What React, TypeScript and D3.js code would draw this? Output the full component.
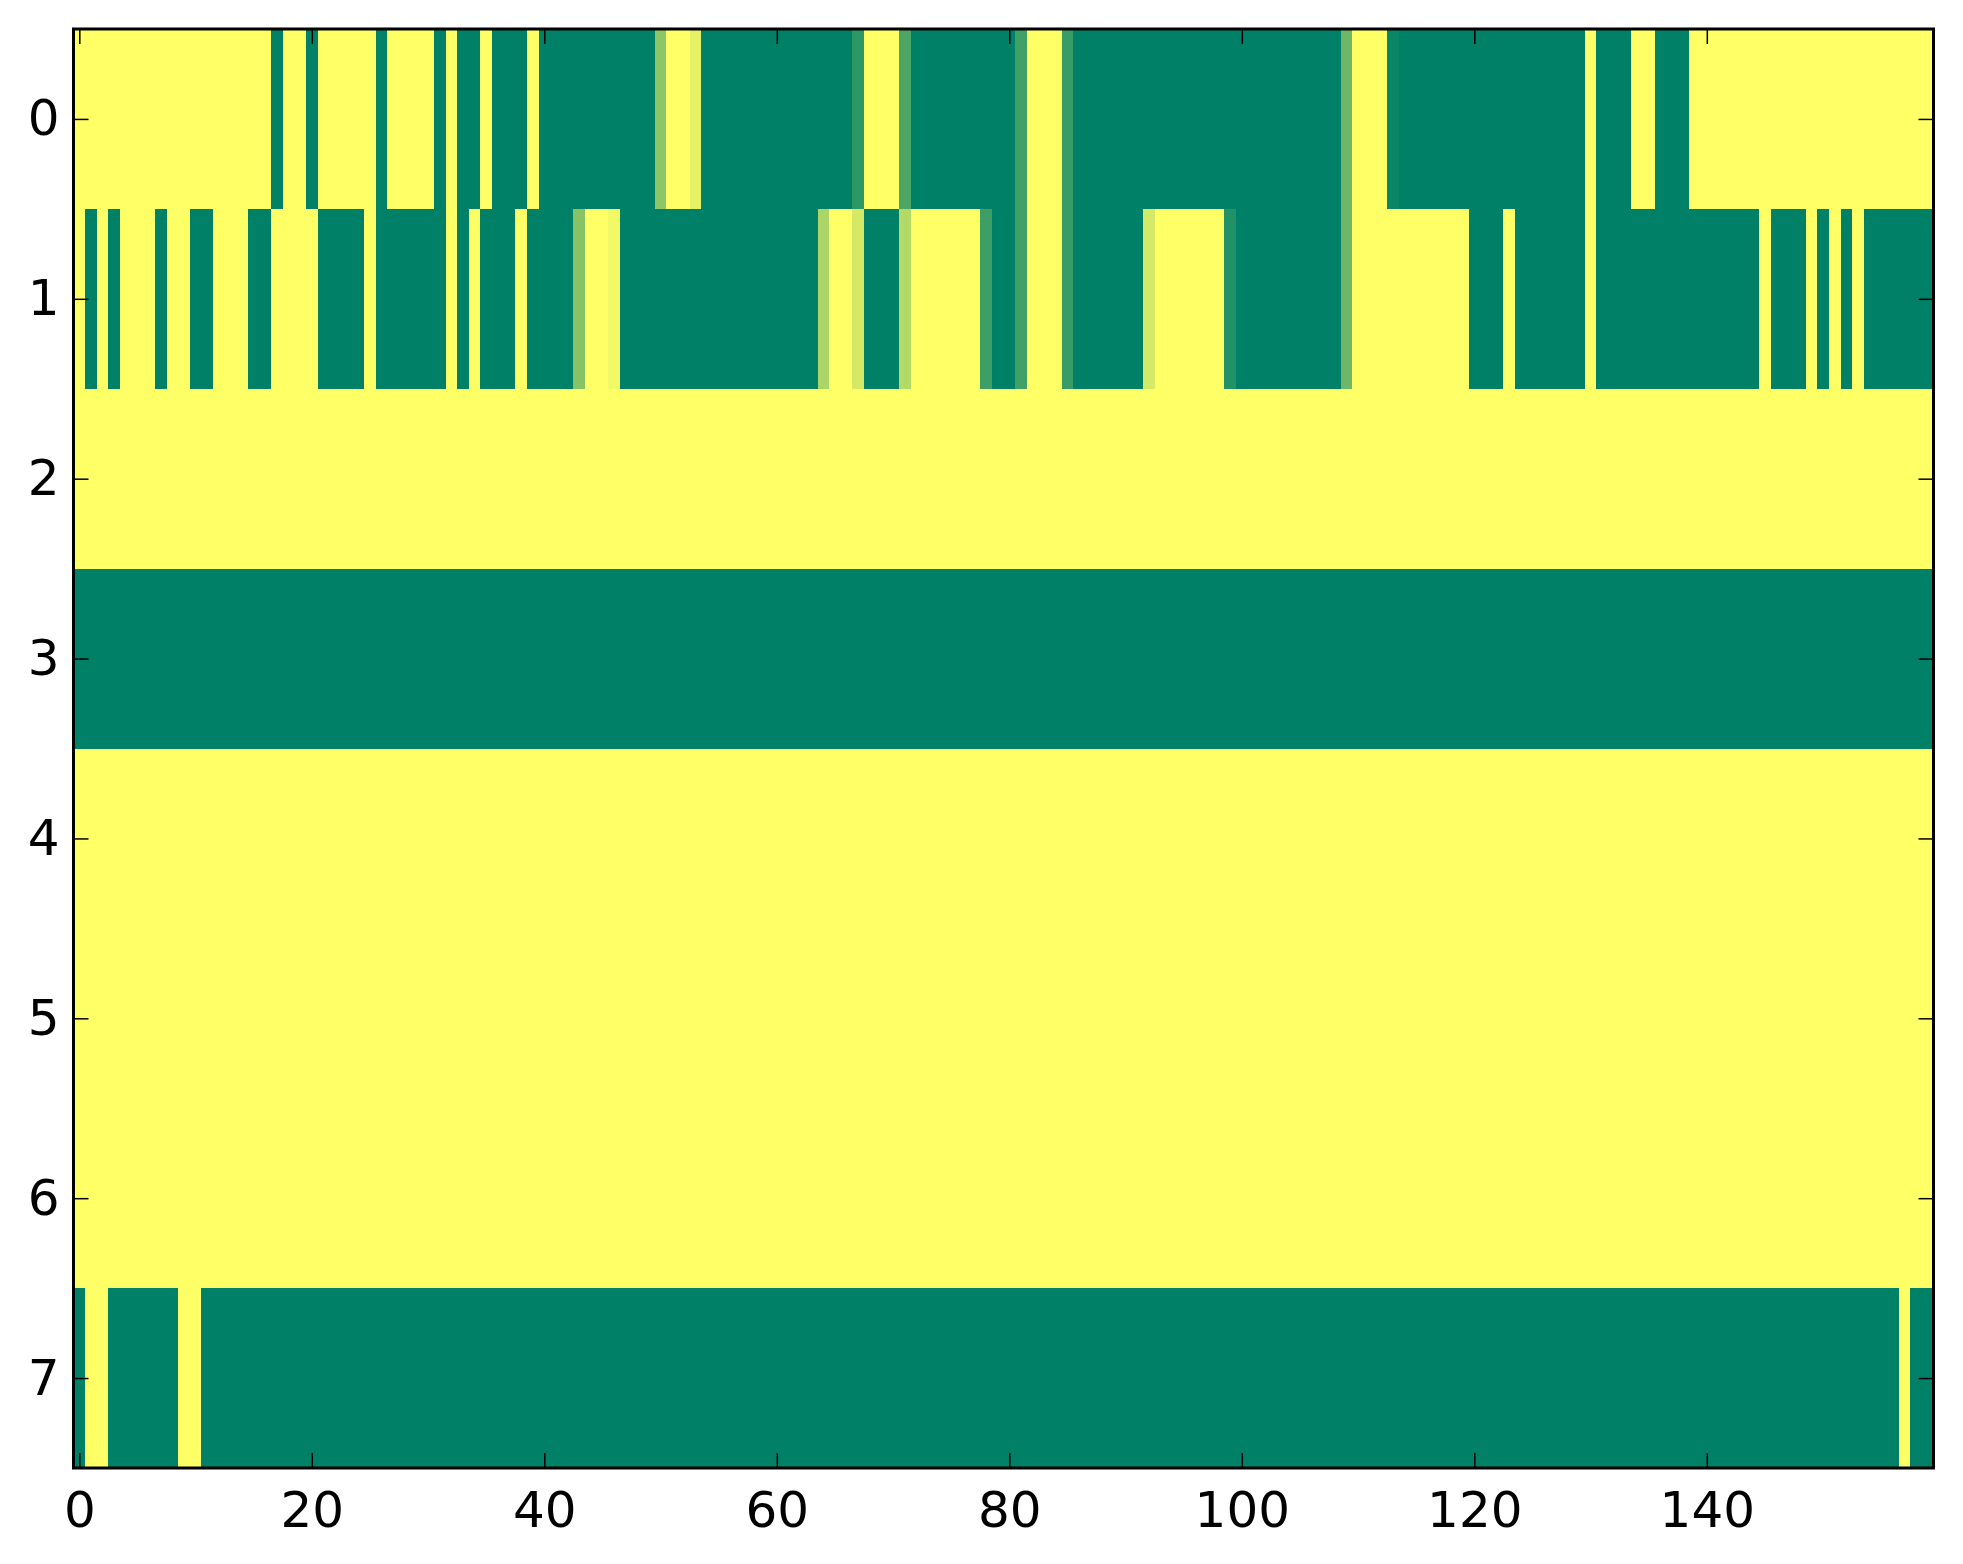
import React, { useEffect, useRef } from "react";
import * as d3 from "d3";

// cell values (0 = green end, 1 = yellow end of "summer")
const row0 = [
  1, 1, 1, 1, 1, 1, 1, 1, 1, 1, 1, 1, 1, 1, 1, 1, 1, 0, 1, 1,
  0, 1, 1, 1, 1, 1, 0, 1, 1, 1, 1, 0, 1, 0, 0, 1, 0, 0, 0, 1,
  0, 0, 0, 0, 0, 0, 0, 0, 0, 0, 0.55, 1, 1, 0.9, 0, 0, 0, 0, 0, 0,
  0, 0, 0, 0, 0, 0, 0, 0.18, 1, 1, 1, 0.3, 0, 0, 0, 0, 0, 0, 0, 0,
  0, 0.25, 1, 1, 1, 0.22, 0, 0, 0, 0, 0, 0, 0, 0, 0, 0, 0, 0, 0, 0,
  0, 0, 0, 0, 0, 0, 0, 0, 0, 0.43, 1, 1, 1, 0.04, 0, 0, 0, 0, 0, 0,
  0, 0, 0, 0, 0, 0, 0, 0, 0, 0, 1, 0, 0, 0, 1, 1, 0, 0, 0, 1,
  1, 1, 1, 1, 1, 1, 1, 1, 1, 1, 1, 1, 1, 1, 1, 1, 1, 1, 1, 1,
];

const row1 = [
  1, 0, 1, 0, 1, 1, 1, 0, 1, 1, 0, 0, 1, 1, 1, 0, 0, 1, 1, 1,
  1, 0, 0, 0, 0, 1, 0, 0, 0, 0, 0, 0, 1, 0, 1, 0, 0, 0, 1, 0,
  0, 0, 0, 0.53, 1, 1, 0.95, 0, 0, 0, 0, 0, 0, 0, 0, 0, 0, 0, 0, 0,
  0, 0, 0, 0, 0.67, 1, 1, 0.83, 0, 0, 0, 0.7, 1, 1, 1, 1, 1, 1, 0.24, 0,
  0, 0.25, 1, 1, 1, 0.22, 0, 0, 0, 0, 0, 0, 0.83, 1, 1, 1, 1, 1, 1, 0.13,
  0, 0, 0, 0, 0, 0, 0, 0, 0, 0.43, 1, 1, 1, 1, 1, 1, 1, 1, 1, 1,
  0, 0, 0, 1, 0, 0, 0, 0, 0, 0, 1, 0, 0, 0, 0, 0, 0, 0, 0, 0,
  0, 0, 0, 0, 0, 1, 0, 0, 0, 1, 0, 1, 0, 1, 0, 0, 0, 0, 0, 0,
];

const row2 = [
  1, 1, 1, 1, 1, 1, 1, 1, 1, 1, 1, 1, 1, 1, 1, 1, 1, 1, 1, 1,
  1, 1, 1, 1, 1, 1, 1, 1, 1, 1, 1, 1, 1, 1, 1, 1, 1, 1, 1, 1,
  1, 1, 1, 1, 1, 1, 1, 1, 1, 1, 1, 1, 1, 1, 1, 1, 1, 1, 1, 1,
  1, 1, 1, 1, 1, 1, 1, 1, 1, 1, 1, 1, 1, 1, 1, 1, 1, 1, 1, 1,
  1, 1, 1, 1, 1, 1, 1, 1, 1, 1, 1, 1, 1, 1, 1, 1, 1, 1, 1, 1,
  1, 1, 1, 1, 1, 1, 1, 1, 1, 1, 1, 1, 1, 1, 1, 1, 1, 1, 1, 1,
  1, 1, 1, 1, 1, 1, 1, 1, 1, 1, 1, 1, 1, 1, 1, 1, 1, 1, 1, 1,
  1, 1, 1, 1, 1, 1, 1, 1, 1, 1, 1, 1, 1, 1, 1, 1, 1, 1, 1, 1,
];

const row3 = [
  0, 0, 0, 0, 0, 0, 0, 0, 0, 0, 0, 0, 0, 0, 0, 0, 0, 0, 0, 0,
  0, 0, 0, 0, 0, 0, 0, 0, 0, 0, 0, 0, 0, 0, 0, 0, 0, 0, 0, 0,
  0, 0, 0, 0, 0, 0, 0, 0, 0, 0, 0, 0, 0, 0, 0, 0, 0, 0, 0, 0,
  0, 0, 0, 0, 0, 0, 0, 0, 0, 0, 0, 0, 0, 0, 0, 0, 0, 0, 0, 0,
  0, 0, 0, 0, 0, 0, 0, 0, 0, 0, 0, 0, 0, 0, 0, 0, 0, 0, 0, 0,
  0, 0, 0, 0, 0, 0, 0, 0, 0, 0, 0, 0, 0, 0, 0, 0, 0, 0, 0, 0,
  0, 0, 0, 0, 0, 0, 0, 0, 0, 0, 0, 0, 0, 0, 0, 0, 0, 0, 0, 0,
  0, 0, 0, 0, 0, 0, 0, 0, 0, 0, 0, 0, 0, 0, 0, 0, 0, 0, 0, 0,
];

const row4 = [
  1, 1, 1, 1, 1, 1, 1, 1, 1, 1, 1, 1, 1, 1, 1, 1, 1, 1, 1, 1,
  1, 1, 1, 1, 1, 1, 1, 1, 1, 1, 1, 1, 1, 1, 1, 1, 1, 1, 1, 1,
  1, 1, 1, 1, 1, 1, 1, 1, 1, 1, 1, 1, 1, 1, 1, 1, 1, 1, 1, 1,
  1, 1, 1, 1, 1, 1, 1, 1, 1, 1, 1, 1, 1, 1, 1, 1, 1, 1, 1, 1,
  1, 1, 1, 1, 1, 1, 1, 1, 1, 1, 1, 1, 1, 1, 1, 1, 1, 1, 1, 1,
  1, 1, 1, 1, 1, 1, 1, 1, 1, 1, 1, 1, 1, 1, 1, 1, 1, 1, 1, 1,
  1, 1, 1, 1, 1, 1, 1, 1, 1, 1, 1, 1, 1, 1, 1, 1, 1, 1, 1, 1,
  1, 1, 1, 1, 1, 1, 1, 1, 1, 1, 1, 1, 1, 1, 1, 1, 1, 1, 1, 1,
];

const row5 = [
  1, 1, 1, 1, 1, 1, 1, 1, 1, 1, 1, 1, 1, 1, 1, 1, 1, 1, 1, 1,
  1, 1, 1, 1, 1, 1, 1, 1, 1, 1, 1, 1, 1, 1, 1, 1, 1, 1, 1, 1,
  1, 1, 1, 1, 1, 1, 1, 1, 1, 1, 1, 1, 1, 1, 1, 1, 1, 1, 1, 1,
  1, 1, 1, 1, 1, 1, 1, 1, 1, 1, 1, 1, 1, 1, 1, 1, 1, 1, 1, 1,
  1, 1, 1, 1, 1, 1, 1, 1, 1, 1, 1, 1, 1, 1, 1, 1, 1, 1, 1, 1,
  1, 1, 1, 1, 1, 1, 1, 1, 1, 1, 1, 1, 1, 1, 1, 1, 1, 1, 1, 1,
  1, 1, 1, 1, 1, 1, 1, 1, 1, 1, 1, 1, 1, 1, 1, 1, 1, 1, 1, 1,
  1, 1, 1, 1, 1, 1, 1, 1, 1, 1, 1, 1, 1, 1, 1, 1, 1, 1, 1, 1,
];

const row6 = [
  1, 1, 1, 1, 1, 1, 1, 1, 1, 1, 1, 1, 1, 1, 1, 1, 1, 1, 1, 1,
  1, 1, 1, 1, 1, 1, 1, 1, 1, 1, 1, 1, 1, 1, 1, 1, 1, 1, 1, 1,
  1, 1, 1, 1, 1, 1, 1, 1, 1, 1, 1, 1, 1, 1, 1, 1, 1, 1, 1, 1,
  1, 1, 1, 1, 1, 1, 1, 1, 1, 1, 1, 1, 1, 1, 1, 1, 1, 1, 1, 1,
  1, 1, 1, 1, 1, 1, 1, 1, 1, 1, 1, 1, 1, 1, 1, 1, 1, 1, 1, 1,
  1, 1, 1, 1, 1, 1, 1, 1, 1, 1, 1, 1, 1, 1, 1, 1, 1, 1, 1, 1,
  1, 1, 1, 1, 1, 1, 1, 1, 1, 1, 1, 1, 1, 1, 1, 1, 1, 1, 1, 1,
  1, 1, 1, 1, 1, 1, 1, 1, 1, 1, 1, 1, 1, 1, 1, 1, 1, 1, 1, 1,
];

const row7 = [
  0, 1, 1, 0, 0, 0, 0, 0, 0, 1, 1, 0, 0, 0, 0, 0, 0, 0, 0, 0,
  0, 0, 0, 0, 0, 0, 0, 0, 0, 0, 0, 0, 0, 0, 0, 0, 0, 0, 0, 0,
  0, 0, 0, 0, 0, 0, 0, 0, 0, 0, 0, 0, 0, 0, 0, 0, 0, 0, 0, 0,
  0, 0, 0, 0, 0, 0, 0, 0, 0, 0, 0, 0, 0, 0, 0, 0, 0, 0, 0, 0,
  0, 0, 0, 0, 0, 0, 0, 0, 0, 0, 0, 0, 0, 0, 0, 0, 0, 0, 0, 0,
  0, 0, 0, 0, 0, 0, 0, 0, 0, 0, 0, 0, 0, 0, 0, 0, 0, 0, 0, 0,
  0, 0, 0, 0, 0, 0, 0, 0, 0, 0, 0, 0, 0, 0, 0, 0, 0, 0, 0, 0,
  0, 0, 0, 0, 0, 0, 0, 0, 0, 0, 0, 0, 0, 0, 0, 0, 0, 1, 0, 0,
];

const rows = [row0, row1, row2, row3, row4, row5, row6, row7];
const xTicks = [0, 20, 40, 60, 80, 100, 120, 140];
const yTicks = [0, 1, 2, 3, 4, 5, 6, 7];

const App = () => {
  const svgRef = useRef(null);
  const width = 1963;
  const height = 1564;

  useEffect(() => {
    document.body.style.margin = "0";

    const margin = { left: 73.5, right: 29.5, top: 29, bottom: 96 };
    const nCols = rows[0].length;
    const nRows = rows.length;

    const svg = d3.select(svgRef.current);
    svg.selectAll("*").remove();

    const x = d3
      .scaleLinear()
      .domain([-0.5, nCols - 0.5])
      .range([margin.left, width - margin.right]);
    const y = d3
      .scaleLinear()
      .domain([-0.5, nRows - 0.5])
      .range([margin.top, height - margin.bottom]);

    // matplotlib "summer": r = v, g = 0.5 + v/2, b = 0.4
    const color = d3
      .scaleLinear<string>()
      .domain([0, 1])
      .range(["rgb(0,128,102)", "rgb(255,255,102)"])
      .interpolate(d3.interpolateRgb);

    const cells = rows.flatMap((r, i) => r.map((v, j) => ({ i, j, v })));

    svg
      .append("g")
      .attr("shape-rendering", "crispEdges")
      .selectAll("rect")
      .data(cells)
      .join("rect")
      .attr("x", (d) => x(d.j - 0.5))
      .attr("y", (d) => y(d.i - 0.5))
      .attr("width", (d) => x(d.j + 0.5) - x(d.j - 0.5) + 0.5)
      .attr("height", (d) => y(d.i + 0.5) - y(d.i - 0.5) + 0.5)
      .attr("fill", (d) => color(d.v));

    const font = "'DejaVu Sans', sans-serif";
    const tick = 15;

    const styleAxis = (g, withText) => {
      g.select(".domain").remove();
      g.selectAll(".tick line").attr("stroke", "#000").attr("stroke-width", 1.5);
      g.selectAll("text")
        .attr("font-family", font)
        .attr("font-size", 50)
        .attr("fill", "#000");
      if (!withText) g.selectAll("text").remove();
    };

    svg
      .append("g")
      .attr("transform", `translate(0, ${y(nRows - 0.5)})`)
      .call(d3.axisBottom(x).tickValues(xTicks).tickSize(-tick).tickPadding(23))
      .call((g) => styleAxis(g, true));

    svg
      .append("g")
      .attr("transform", `translate(0, ${y(-0.5)})`)
      .call(d3.axisTop(x).tickValues(xTicks).tickSize(-tick))
      .call((g) => styleAxis(g, false));

    svg
      .append("g")
      .attr("transform", `translate(${x(-0.5)}, 0)`)
      .call(d3.axisLeft(y).tickValues(yTicks).tickSize(-tick).tickPadding(14))
      .call((g) => styleAxis(g, true));

    svg
      .append("g")
      .attr("transform", `translate(${x(nCols - 0.5)}, 0)`)
      .call(d3.axisRight(y).tickValues(yTicks).tickSize(-tick))
      .call((g) => styleAxis(g, false));

    // frame
    svg
      .append("rect")
      .attr("x", x(-0.5))
      .attr("y", y(-0.5))
      .attr("width", x(nCols - 0.5) - x(-0.5))
      .attr("height", y(nRows - 0.5) - y(-0.5))
      .attr("fill", "none")
      .attr("stroke", "#000")
      .attr("stroke-width", 3);
  }, []);

  return (
    <svg
      ref={svgRef}
      width={width}
      height={height}
      style={{ display: "block", background: "#fff" }}
    ></svg>
  );
};

export default App;
